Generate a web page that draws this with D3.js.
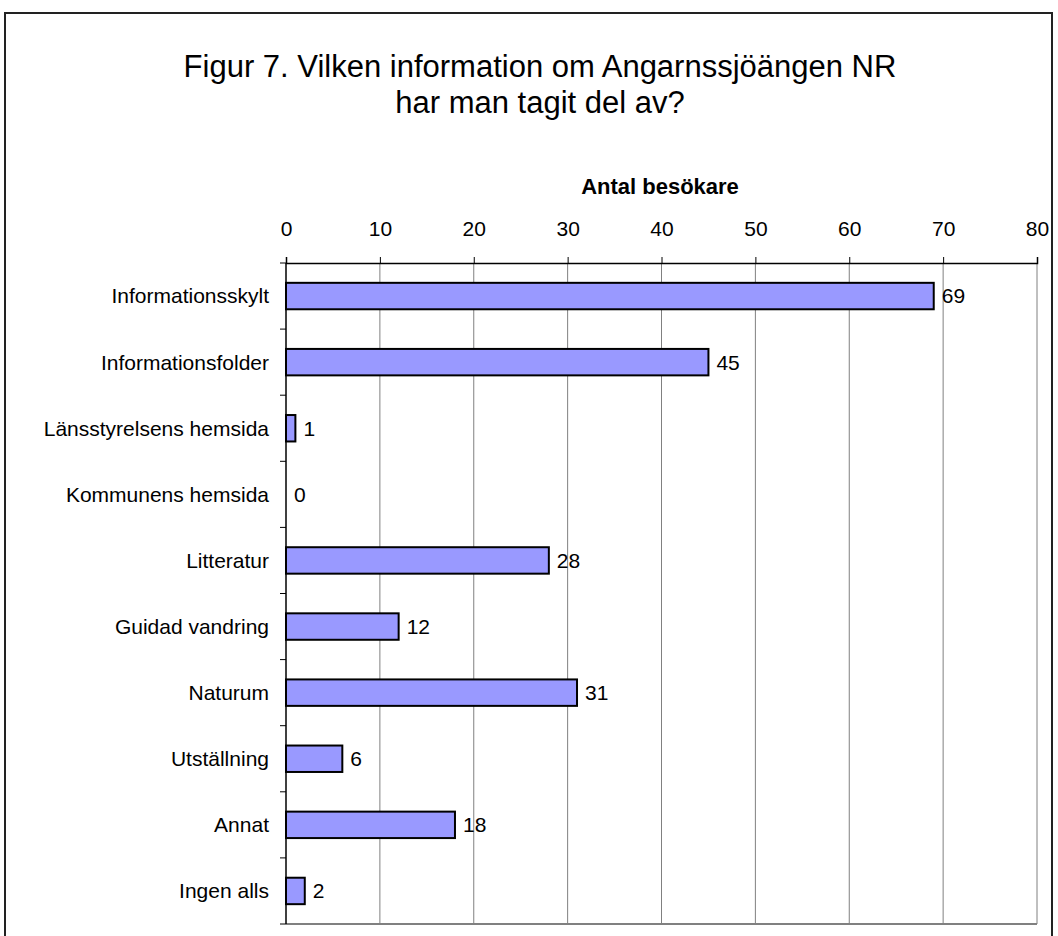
<!DOCTYPE html>
<html>
<head>
<meta charset="utf-8">
<script src="https://cdn.jsdelivr.net/npm/d3@7"></script>
<style>
  body { margin: 0; background: #fff; }
  svg text { font-family: "Liberation Sans", Arial, sans-serif; }
</style>
</head>
<body>
<div id="chart"></div>
<script>
const categories = ["Informationsskylt", "Informationsfolder", "Länsstyrelsens hemsida", "Kommunens hemsida",
    "Litteratur", "Guidad vandring", "Naturum", "Utställning", "Annat", "Ingen alls"];
const values = [69, 45, 1, 0, 28, 12, 31, 6, 18, 2];
const xTicks = [0, 10, 20, 30, 40, 50, 60, 70, 80];
const titleLines = ["Figur 7. Vilken information om Angarnssjöängen NR", "har man tagit del av?"];
const axisTitle = "Antal besökare";

const W = 1058, H = 936;
const margin = {top: 263, right: 21, bottom: 12, left: 286};
const width = W - margin.left - margin.right;
const height = H - margin.top - margin.bottom;

const svg = d3.select('#chart').append('svg')
    .attr('width', W)
    .attr('height', H);

// outer frame
svg.append('rect')
    .attr('x', 5).attr('y', 13)
    .attr('width', 1047).attr('height', 940)
    .attr('fill', 'none')
    .attr('stroke', '#222')
    .attr('stroke-width', 2);

// title
svg.append('text')
    .attr('text-anchor', 'middle')
    .style('font-size', '31px')
    .selectAll('tspan')
    .data(titleLines)
    .enter().append('tspan')
    .attr('x', 540)
    .attr('y', (d, i) => 77 + i * 36)
    .text(d => d);

const g = svg.append('g')
    .attr('transform', 'translate(' + margin.left + ',' + margin.top + ')');

const x = d3.scaleLinear().domain([0, 80]).range([0, width]);
const y = d3.scaleBand().domain(categories).range([0, height]).paddingInner(0.6).paddingOuter(0.3);

// gridlines
g.selectAll('line.grid')
    .data(xTicks.slice(1))
    .enter().append('line')
    .attr('class', 'grid')
    .attr('x1', d => x(d)).attr('x2', d => x(d))
    .attr('y1', 0).attr('y2', height)
    .attr('stroke', '#808080')
    .attr('stroke-width', 1);

// bottom border of plot
g.append('line')
    .attr('x1', 0).attr('x2', width)
    .attr('y1', height).attr('y2', height)
    .attr('stroke', '#808080')
    .attr('stroke-width', 2);

// top axis
const xAxis = g.append('g')
    .call(d3.axisTop(x).tickValues(xTicks).tickSize(6).tickPadding(21));
xAxis.select('.domain').attr('stroke', '#000').attr('stroke-width', 1.5);
xAxis.selectAll('.tick line').attr('stroke', '#000');
xAxis.selectAll('.tick text')
    .style('font-size', '21px')
    .attr('fill', '#000');

// axis title
g.append('text')
    .attr('x', 660 - margin.left)
    .attr('y', 194 - margin.top)
    .attr('text-anchor', 'middle')
    .style('font-size', '22px')
    .style('font-weight', 'bold')
    .text(axisTitle);

// left axis: line with ticks between categories
g.append('line')
    .attr('x1', 0).attr('x2', 0)
    .attr('y1', 0).attr('y2', height)
    .attr('stroke', '#000').attr('stroke-width', 1.5);

const step = height / categories.length;
g.selectAll('line.ytick')
    .data(d3.range(categories.length + 1))
    .enter().append('line')
    .attr('class', 'ytick')
    .attr('x1', -6).attr('x2', 0)
    .attr('y1', d => d * step).attr('y2', d => d * step)
    .attr('stroke', '#000');

g.selectAll('text.cat')
    .data(categories)
    .enter().append('text')
    .attr('class', 'cat')
    .attr('x', -17)
    .attr('y', d => y(d) + y.bandwidth() / 2)
    .attr('dy', '0.35em')
    .attr('text-anchor', 'end')
    .style('font-size', '21px')
    .text(d => d);

// bars
g.selectAll('rect.bar')
    .data(values)
    .enter().append('rect')
    .attr('class', 'bar')
    .attr('x', 0)
    .attr('y', (d, i) => y(categories[i]))
    .attr('width', d => x(d))
    .attr('height', y.bandwidth())
    .attr('fill', '#9999FF')
    .attr('stroke', d => d > 0 ? '#000' : 'none')
    .attr('stroke-width', 2);

// value labels
g.selectAll('text.val')
    .data(values)
    .enter().append('text')
    .attr('class', 'val')
    .attr('x', d => x(d) + 8)
    .attr('y', (d, i) => y(categories[i]) + y.bandwidth() / 2)
    .attr('dy', '0.35em')
    .style('font-size', '21px')
    .text(d => d);
</script>
</body>
</html>
